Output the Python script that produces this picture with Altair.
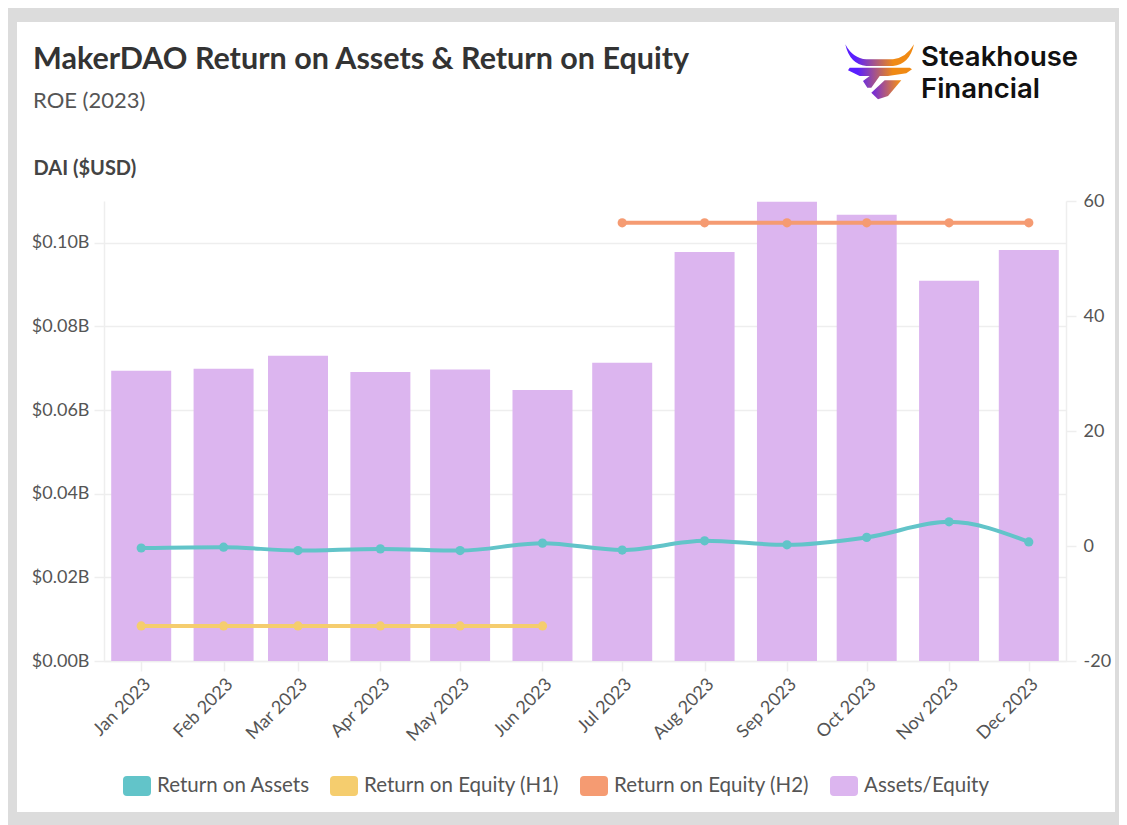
import altair as alt
import pandas as pd

months = ["2023-01-01","2023-02-01","2023-03-01","2023-04-01","2023-05-01","2023-06-01",
          "2023-07-01","2023-08-01","2023-09-01","2023-10-01","2023-11-01","2023-12-01"]
assets_equity = [0.0694,0.0699,0.0730,0.0691,0.0697,0.0648,0.0713,0.0978,0.1098,0.1067,0.0909,0.0983]
roa = [-0.35,-0.2,-0.8,-0.5,-0.8,0.5,-0.7,0.9,0.2,1.5,4.2,0.7]
roe_h1 = [-13.9]*6
roe_h2 = [56.2]*6
names = ["Return on Assets","Return on Equity (H1)","Return on Equity (H2)","Assets/Equity"]
colors = ["#62c4c9","#f5cd6e","#f59b72","#dcb5ef"]

FONT = "Lato"
INK = "#555555"
GRID = "#eeeeee"
FRAME = "#dcdcdc"

bars_df = pd.DataFrame({"month":months,"value":assets_equity,"series":names[3]})
roa_df = pd.DataFrame({"month":months,"value":roa,"series":names[0]})
h1_df = pd.DataFrame({"month":months[:6],"value":roe_h1,"series":names[1]})
h2_df = pd.DataFrame({"month":months[6:],"value":roe_h2,"series":names[2]})

x_scale = alt.Scale(domain=[alt.DateTime(year=2022,month=12,date=18),
                            alt.DateTime(year=2023,month=12,date=15)], nice=False, padding=0)
x_axis = alt.Axis(format="%b %Y", tickCount=alt.TickCount(interval="month",step=1), labelAngle=-45,
                  labelAlign="right", labelBaseline="top", labelFontSize=18, labelColor=INK,
                  labelPadding=4, tickSize=10, tickColor=GRID, tickWidth=1.5, domainColor=GRID,
                  domainWidth=1.5, grid=False, title=None, labelFont=FONT, labelOverlap=False)
x_enc = alt.X("month:T", scale=x_scale, axis=x_axis)
rounded = "M-.72,-.71H.72Q1,-.71 1,-.43V.43Q1,.71 .72,.71H-.72Q-1,.71 -1,.43V-.43Q-1,-.71 -.72,-.71Z"
color_scale = alt.Scale(domain=names, range=colors)
legend = alt.Legend(orient="none", legendX=19, legendY=571, direction="horizontal", columns=4,
                    title=None, symbolType=rounded, symbolSize=784, symbolStrokeWidth=0,
                    symbolOpacity=1, labelFontSize=20.5, labelFont=FONT, labelColor=INK,
                    labelOffset=6, columnPadding=20, gridAlign="none", labelLimit=300)

bars = alt.Chart(bars_df).mark_bar(width=60, opacity=1).encode(
    x=x_enc,
    y=alt.Y("value:Q", scale=alt.Scale(domain=[0,0.11], nice=False),
            axis=alt.Axis(values=[0,0.02,0.04,0.06,0.08,0.10], labelExpr="'$' + format(datum.value,'.2f') + 'B'",
                          labelFontSize=18, labelFont=FONT, labelColor=INK, labelPadding=5, tickSize=10,
                          tickColor=GRID, tickWidth=1.5, domainColor=GRID, domainWidth=1.5, gridColor=GRID,
                          gridWidth=1.5, title="DAI ($USD)", titleAngle=0, titleAlign="left", titleBaseline="middle",
                          titleX=-71, titleY=-33, titleFontSize=20, titleFont=FONT, titleFontWeight="bold",
                          titleColor="#444444")),
    color=alt.Color("series:N", scale=color_scale, legend=legend),
)

y_right = alt.Scale(domain=[-20,60], nice=False)
def series_line(df, axis, interp):
    return alt.Chart(df).mark_line(strokeWidth=4, interpolate=interp,
        point=alt.OverlayMarkDef(filled=True, size=85, opacity=1)).encode(
        x=x_enc,
        y=alt.Y("value:Q", scale=y_right, axis=axis),
        color=alt.Color("series:N", scale=color_scale, legend=None),
    )
right_axis = alt.Axis(orient="right", values=[-20,0,20,40,60], labelExpr="datum.value + ''", labelFontSize=18,
                      labelFont=FONT, labelColor=INK,
                      labelPadding=7, tickSize=10, tickColor=GRID, tickWidth=1.5, domainColor=GRID,
                      domainWidth=1.5, grid=False, title=None)
lines = [series_line(roa_df, right_axis, "monotone"), series_line(h1_df, None, "linear"), series_line(h2_df, None, "linear")]

def rect(x, x2, y, y2):
    return alt.Chart(pd.DataFrame({"k":[0]})).mark_rect(color=FRAME, opacity=1).encode(
        x=alt.value(x), x2=alt.value(x2), y=alt.value(y), y2=alt.value(y2))
frames = [rect(-96,-87,-193,624), rect(-96,1015,-193,-179), rect(1011,1015,-193,624), rect(-96,1015,611,624)]

def logo_text(s, y):
    return alt.Chart(pd.DataFrame({"k":[0]})).mark_text(font="Inter", fontSize=27.5, fontWeight=600, color="#111111",
        align="left", baseline="middle").encode(x=alt.value(817), y=alt.value(y), text=alt.value(s))
logo_words = [logo_text("Steakhouse",-143), logo_text("Financial",-111)]

def P(*pts):
    out=[]
    for p in pts:
        if isinstance(p,str):
            out.append(p)
        else:
            out.append(f"{p[0]/3-42:.1f},{p[1]/3-34:.1f}")
    return " ".join(out)
horn = P("M",(22,25),"Q",(45,68),(85,70),"L",(165,70),"Q",(205,65),(228,25),"Q",(215,85),(165,90),"L",(85,90),"Q",(35,85),(22,25),"Z")
mid = P("M",(35,95),"L",(215,95),(222,100),(205,112),(150,120),(125,120),(100,155),(88,155),(75,135),(95,120),(65,120),(30,103),"Z")
low = P("M",(140,133),"L",(190,133),(150,180),(120,190),(100,170),"Z")
grad = alt.Gradient(gradient="linear", x1=0, x2=1, y1=0, y2=0,
                    stops=[alt.GradientStop(color="#5a1fff",offset=0.15),alt.GradientStop(color="#f08a14",offset=0.7)])
grad2 = alt.Gradient(gradient="linear", x1=0, x2=1, y1=0, y2=0,
                    stops=[alt.GradientStop(color="#7a2fd0",offset=0.1),alt.GradientStop(color="#ee8a20",offset=0.9)])
def logo_part(path, g):
    return alt.Chart(pd.DataFrame({"k":[0]})).mark_point(shape=path, size=4, filled=True, fill=g, opacity=1, strokeWidth=0).encode(
        x=alt.value(776), y=alt.value(-131))
logo = [logo_part(horn,grad), logo_part(mid,grad), logo_part(low,grad2)]

title = alt.TitleParams(text="MakerDAO Return on Assets & Return on Equity", subtitle="ROE (2023)", anchor="start",
                        frame="group", dx=-71, offset=-104, font=FONT, fontSize=30.5, fontWeight="bold", color="#333333",
                        subtitleFont=FONT, subtitleFontSize=22, subtitleColor=INK, subtitlePadding=16)

chart = alt.layer(bars, *lines, *logo, *logo_words, *frames).resolve_scale(y="independent").properties(
    width=962, height=460, title=title,
    padding={"left":96,"top":193,"right":53,"bottom":164},
    autosize=alt.AutoSizeParams(type="none"),
    background="white",
).configure_view(stroke=None)

chart.save("out.html", embed_options={"renderer": "svg", "actions": False})
